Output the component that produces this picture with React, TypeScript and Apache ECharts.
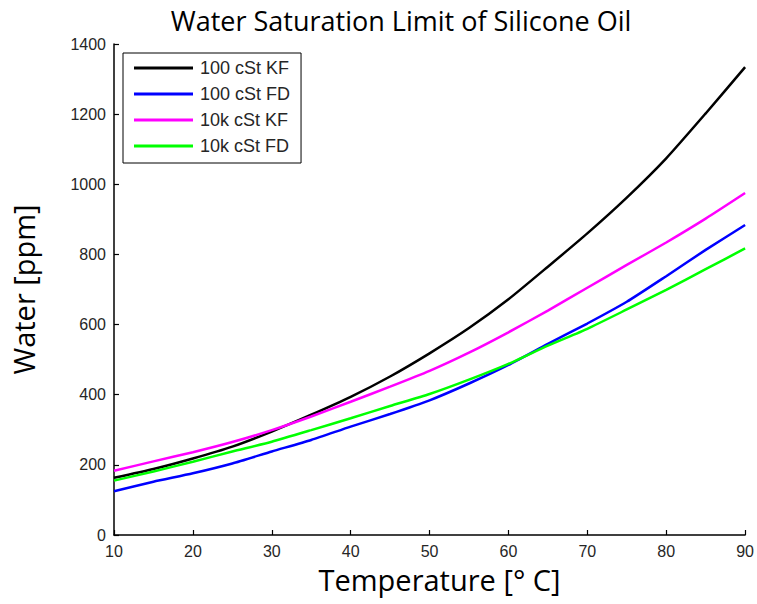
import React, { useEffect, useRef } from "react";
import * as echarts from "echarts";

const temperatures = [10, 15, 20, 25, 30, 35, 40, 45, 50, 55, 60, 65, 70, 75, 80, 85, 90];
const kf100 = [163, 188, 218, 252, 295, 343, 394, 452, 518, 590, 672, 765, 860, 962, 1074, 1202, 1334];
const fd100 = [125, 152, 176, 204, 238, 271, 309, 345, 384, 432, 485, 545, 603, 665, 738, 813, 884];
const kf10k = [183, 210, 236, 265, 299, 338, 380, 423, 468, 520, 578, 640, 705, 770, 834, 902, 975];
const fd10k = [155, 181, 209, 238, 266, 299, 333, 368, 402, 443, 488, 540, 588, 643, 699, 758, 817];

const seriesNames = ["100 cSt KF", "100 cSt FD", "10k cSt KF", "10k cSt FD"];
const seriesColors = ["#000000", "#0000ff", "#ff00ff", "#00ff00"];
const seriesData = [kf100, fd100, kf10k, fd10k];

export default function App() {
  const ref = useRef<HTMLDivElement>(null);
  useEffect(() => {
    if (!ref.current) return;
    const chart = echarts.init(ref.current, null, { renderer: "svg" });
    const tickFont = { fontFamily: "Liberation Sans, Arial, sans-serif", fontSize: 16, color: "#262626" };
    chart.setOption({
      animation: false,
      backgroundColor: "#ffffff",
      title: {
        text: "Water Saturation Limit of Silicone Oil",
        left: 396,
        textAlign: "center",
        top: 2,
        textStyle: { fontFamily: "Open Sans, sans-serif", fontSize: 27, fontWeight: "normal", color: "#000" },
      },
      legend: {
        orient: "vertical",
        left: 123,
        top: 53,
        padding: [6, 11, 8, 11],
        itemGap: 8,
        itemWidth: 59,
        itemHeight: 3,
        icon: "rect",
        borderColor: "#000",
        borderWidth: 1,
        backgroundColor: "#fff",
        textStyle: { fontFamily: "Liberation Sans, Arial, sans-serif", fontSize: 18, color: "#262626", padding: [0, 0, 0, 2] },
        data: seriesNames,
      },
      grid: { left: 114, right: 11, top: 44, bottom: 69, containLabel: false },
      xAxis: {
        type: "value",
        min: 10,
        max: 90,
        interval: 10,
        name: "Temperature [° C]",
        nameLocation: "middle",
        nameGap: 30,
        nameTextStyle: { fontFamily: "Open Sans, sans-serif", fontSize: 29, color: "#000", padding: [0, 0, 0, 20] },
        axisLine: { show: true, lineStyle: { color: "#000", width: 1.5 } },
        axisTick: { show: true, inside: true, length: 5, lineStyle: { color: "#000", width: 1.2 } },
        axisLabel: { ...tickFont, margin: 8 },
        splitLine: { show: false },
      },
      yAxis: {
        type: "value",
        min: 0,
        max: 1400,
        interval: 200,
        name: "Water [ppm]",
        nameLocation: "middle",
        nameGap: 76,
        nameTextStyle: { fontFamily: "Open Sans, sans-serif", fontSize: 29, color: "#000" },
        axisLine: { show: true, lineStyle: { color: "#000", width: 1.5 } },
        axisTick: { show: true, inside: true, length: 5, lineStyle: { color: "#000", width: 1.2 } },
        axisLabel: { ...tickFont, margin: 8, formatter: (v: number) => String(v) },
        splitLine: { show: false },
      },
      series: seriesNames.map((name, i) => ({
        name,
        type: "line",
        smooth: 0.2,
        showSymbol: false,
        symbol: "none",
        color: seriesColors[i],
        lineStyle: { color: seriesColors[i], width: 2.5 },
        data: temperatures.map((t, j) => [t, seriesData[i][j]]),
      })),
    });
    return () => chart.dispose();
  }, []);
  return <div ref={ref} style={{ width: 757, height: 604, position: "absolute", left: 0, top: 0 }} />;
}
